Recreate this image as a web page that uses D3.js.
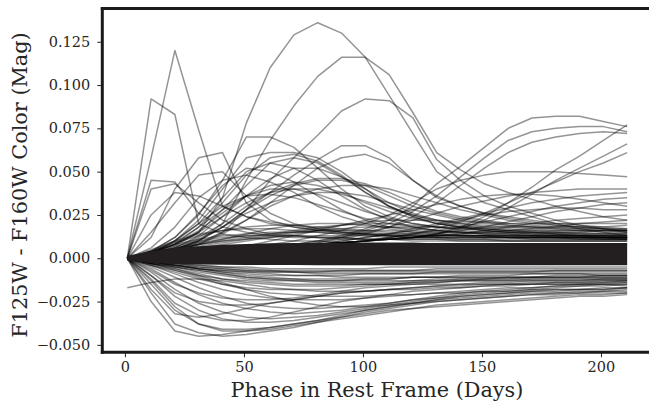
<!DOCTYPE html>
<html>
<head>
<meta charset="utf-8" />
<title>F125W - F160W color curves</title>
<style>
  body { margin: 0; background: #fff; }
  text { font-family: "DejaVu Serif", serif; fill: #262626; }
</style>
</head>
<body>
<script src="https://cdn.jsdelivr.net/npm/d3@7/dist/d3.min.js"></script>
<script>
// phases (days) at which every curve is sampled
var phases = [1,11,21,31,41,51,61,71,81,91,101,111,121,131,141,151,161,171,181,191,201,211];

var xTicks = [0, 50, 100, 150, 200];
var yTicks = [-0.050, -0.025, 0.000, 0.025, 0.050, 0.075, 0.100, 0.125];

// the three big late bumps
var bigBumps = [
  [0,.003,.008,.015,.035,.078,.110,.129,.136,.130,.116,.094,.072,.050,.040,.032,.028,.024,.020,.017,.015,.013],
  [0,.002,.005,.010,.020,.045,.068,.088,.105,.116,.116,.106,.084,.061,.051,.043,.038,.034,.030,.027,.024,.022],
  [0,.002,.004,.008,.015,.028,.045,.058,.071,.085,.092,.091,.081,.057,.045,.036,.030,.026,.022,.019,.017,.015]
];

// curves with an early spike
var earlySpikes = [
  [0,.058,.120,.074,.030,.024,.021,.019,.017,.015,.014,.013,.012,.012,.011,.011,.010,.010,.010,.010,.010,.010],
  [0,.092,.083,.020,.014,.012,.011,.010,.010,.009,.009,.009,.009,.008,.008,.008,.008,.008,.008,.008,.008,.008],
  [0,.045,.044,.026,.018,.015,.013,.012,.012,.011,.011,.011,.010,.010,.010,.010,.010,.010,.010,.010,.010,.010],
  [0,.040,.043,.032,.022,.017,.014,.013,.012,.012,.011,.011,.011,.011,.010,.010,.010,.010,.010,.010,.010,.010],
  [0,.012,.040,.058,.061,.032,.022,.018,.016,.015,.014,.013,.013,.012,.012,.012,.012,.011,.011,.011,.011,.011],
  [0,.015,.032,.048,.050,.036,.026,.020,.017,.016,.015,.014,.014,.013,.013,.013,.012,.012,.012,.012,.012,.012],
  [0,.025,.038,.036,.030,.024,.020,.018,.016,.015,.014,.014,.013,.013,.013,.012,.012,.012,.012,.012,.012,.012]
];

// curves peaking between 40 and 100 days
var midDomes = [
  [0,.004,.012,.025,.045,.070,.070,.064,.052,.040,.030,.024,.020,.018,.016,.015,.014,.013,.013,.012,.012,.012],
  [0,.003,.010,.022,.040,.058,.061,.061,.058,.050,.040,.030,.024,.020,.018,.016,.015,.014,.014,.013,.013,.013],
  [0,.003,.008,.018,.032,.048,.058,.060,.056,.048,.038,.030,.024,.020,.018,.016,.015,.014,.013,.013,.012,.012],
  [0,.002,.007,.015,.028,.042,.055,.058,.055,.047,.038,.030,.025,.021,.019,.017,.016,.015,.014,.013,.013,.012],
  [0,.002,.005,.010,.018,.028,.038,.048,.057,.065,.065,.058,.045,.035,.030,.026,.023,.021,.019,.018,.017,.016],
  [0,.002,.004,.008,.014,.022,.032,.042,.052,.058,.060,.055,.045,.036,.030,.026,.024,.022,.020,.019,.018,.017],
  [0,.003,.010,.020,.035,.050,.055,.052,.045,.036,.028,.022,.018,.016,.015,.014,.013,.013,.012,.012,.012,.011],
  [0,.002,.006,.013,.024,.036,.046,.052,.052,.047,.040,.032,.026,.022,.020,.018,.017,.016,.015,.015,.014,.014],
  [0,.004,.012,.026,.042,.052,.050,.044,.036,.028,.022,.018,.016,.015,.014,.013,.013,.012,.012,.012,.011,.011],
  [0,.006,.018,.035,.045,.048,.044,.038,.030,.024,.020,.017,.015,.014,.013,.013,.012,.012,.012,.011,.011,.011],
  [0,.002,.005,.010,.018,.028,.036,.042,.045,.045,.042,.036,.030,.026,.023,.021,.019,.018,.017,.016,.016,.015],
  [0,.003,.008,.016,.026,.036,.042,.044,.042,.038,.032,.027,.023,.020,.018,.017,.016,.015,.015,.014,.014,.014],
  [0,.002,.006,.012,.020,.030,.038,.043,.046,.046,.043,.038,.032,.027,.024,.022,.020,.019,.018,.017,.017,.016],
  [0,.003,.009,.018,.028,.036,.040,.040,.037,.032,.027,.023,.020,.018,.017,.016,.015,.015,.014,.014,.013,.013],
  [0,.002,.005,.011,.018,.026,.032,.036,.038,.038,.036,.032,.028,.025,.022,.020,.019,.018,.017,.017,.016,.016],
  [0,.004,.010,.020,.030,.036,.037,.035,.031,.027,.023,.020,.018,.016,.015,.014,.014,.013,.013,.013,.012,.012],
  [0,.002,.004,.009,.015,.022,.030,.036,.040,.042,.042,.040,.036,.032,.028,.025,.022,.020,.019,.018,.017,.017],
  [0,.003,.008,.015,.024,.032,.038,.040,.040,.037,.033,.029,.025,.022,.020,.019,.018,.017,.016,.016,.015,.015]
];

// curves that rise late
var lateRisers = [
  [0,.001,.002,.003,.004,.005,.006,.008,.010,.013,.017,.022,.030,.043,.053,.064,.075,.081,.082,.082,.079,.076],
  [0,.001,.002,.003,.004,.005,.006,.007,.009,.012,.016,.020,.027,.036,.047,.058,.068,.073,.075,.076,.076,.073],
  [0,.001,.002,.003,.004,.005,.006,.007,.009,.011,.014,.018,.024,.032,.042,.052,.061,.067,.070,.072,.073,.072],
  [0,.001,.002,.003,.004,.005,.006,.007,.008,.009,.010,.011,.012,.014,.018,.024,.032,.041,.051,.059,.068,.077],
  [0,.001,.002,.003,.004,.005,.006,.007,.008,.009,.010,.011,.012,.014,.017,.022,.029,.037,.045,.052,.059,.066],
  [0,.001,.002,.003,.004,.005,.006,.007,.008,.009,.010,.012,.014,.017,.021,.026,.032,.038,.044,.050,.055,.061],
  [0,.001,.002,.003,.004,.006,.008,.010,.013,.016,.020,.025,.032,.040,.045,.048,.050,.050,.050,.049,.048,.047],
  [0,.001,.002,.003,.004,.005,.006,.007,.008,.010,.012,.014,.017,.020,.023,.026,.029,.032,.034,.036,.037,.038],
  [0,.001,.002,.003,.004,.005,.006,.008,.010,.012,.015,.018,.022,.026,.030,.033,.036,.038,.039,.040,.040,.040],
  [0,.001,.002,.003,.004,.005,.006,.007,.008,.009,.010,.012,.014,.016,.018,.021,.024,.027,.030,.032,.034,.035],
  [0,.001,.002,.003,.004,.005,.006,.007,.008,.009,.010,.011,.012,.014,.016,.018,.021,.024,.027,.029,.031,.032],
  [0,.001,.002,.003,.004,.005,.006,.007,.008,.010,.012,.014,.016,.019,.022,.025,.027,.028,.029,.029,.028,.028],
  [0,.001,.002,.003,.004,.005,.006,.007,.008,.009,.010,.011,.012,.013,.014,.016,.018,.020,.022,.023,.024,.025],
  [0,.001,.002,.003,.004,.005,.006,.007,.008,.009,.010,.011,.012,.013,.014,.015,.016,.017,.018,.020,.021,.022],
  [0,.001,.002,.003,.005,.007,.010,.013,.016,.019,.022,.025,.028,.031,.034,.036,.037,.037,.036,.034,.032,.030]
];

// low positive curves just above the dense band
var lowPositive = [
  [0,.003,.006,.009,.011,.013,.014,.015,.016,.016,.016,.016,.015,.015,.015,.014,.014,.014,.014,.014,.014,.014],
  [0,.004,.008,.011,.013,.014,.015,.015,.015,.014,.014,.013,.013,.013,.013,.013,.013,.013,.013,.013,.013,.013],
  [0,.002,.005,.008,.010,.012,.014,.016,.018,.019,.020,.020,.019,.018,.017,.017,.016,.016,.016,.016,.016,.016],
  [0,.003,.006,.008,.010,.011,.012,.013,.013,.013,.013,.012,.012,.012,.012,.012,.012,.012,.012,.012,.012,.012],
  [0,.005,.010,.014,.016,.017,.017,.016,.015,.014,.013,.013,.012,.012,.012,.012,.012,.012,.012,.012,.012,.012],
  [0,.002,.004,.006,.008,.010,.012,.014,.016,.017,.018,.018,.018,.018,.018,.018,.018,.018,.018,.018,.018,.019],
  [0,.003,.007,.010,.012,.013,.013,.013,.012,.012,.011,.011,.011,.011,.011,.011,.011,.011,.011,.011,.011,.011],
  [0,.002,.005,.008,.011,.014,.017,.019,.020,.020,.019,.018,.017,.016,.015,.015,.015,.015,.015,.015,.016,.016],
  [0,.004,.009,.013,.016,.018,.019,.019,.018,.017,.016,.015,.014,.014,.013,.013,.013,.013,.013,.013,.013,.013],
  [0,.002,.004,.007,.009,.011,.013,.015,.017,.019,.021,.022,.022,.022,.021,.021,.020,.020,.020,.020,.020,.020]
];

// curves that go negative
var negatives = [
  [0,-.025,-.042,-.045,-.044,-.042,-.040,-.038,-.036,-.034,-.032,-.030,-.029,-.028,-.027,-.026,-.025,-.024,-.023,-.022,-.022,-.021],
  [0,-.020,-.038,-.043,-.045,-.044,-.042,-.040,-.037,-.034,-.031,-.029,-.027,-.025,-.024,-.023,-.022,-.021,-.020,-.020,-.019,-.019],
  [0,-.015,-.030,-.038,-.041,-.041,-.040,-.038,-.036,-.033,-.030,-.028,-.026,-.024,-.023,-.022,-.021,-.020,-.020,-.019,-.019,-.018],
  [-.017,-.014,-.012,-.012,-.013,-.015,-.017,-.018,-.019,-.019,-.019,-.018,-.018,-.017,-.017,-.016,-.016,-.015,-.015,-.015,-.014,-.014],
  [0,-.010,-.022,-.030,-.035,-.037,-.037,-.036,-.034,-.032,-.030,-.028,-.026,-.024,-.022,-.021,-.020,-.019,-.018,-.018,-.017,-.017],
  [0,-.008,-.018,-.026,-.031,-.034,-.035,-.034,-.033,-.031,-.029,-.027,-.025,-.023,-.021,-.020,-.019,-.018,-.017,-.016,-.016,-.015],
  [0,-.006,-.014,-.021,-.026,-.029,-.031,-.032,-.031,-.030,-.028,-.026,-.024,-.022,-.020,-.019,-.018,-.017,-.016,-.015,-.015,-.014],
  [0,-.018,-.032,-.034,-.032,-.029,-.026,-.024,-.022,-.020,-.019,-.018,-.017,-.016,-.015,-.014,-.014,-.013,-.013,-.013,-.012,-.012],
  [0,-.012,-.026,-.033,-.036,-.036,-.034,-.031,-.028,-.025,-.023,-.021,-.019,-.018,-.017,-.016,-.015,-.015,-.014,-.014,-.013,-.013],
  [0,-.005,-.011,-.017,-.022,-.026,-.028,-.029,-.029,-.028,-.027,-.026,-.024,-.023,-.022,-.021,-.020,-.019,-.019,-.018,-.018,-.017],
  [0,-.004,-.009,-.014,-.018,-.021,-.023,-.024,-.024,-.024,-.023,-.022,-.021,-.020,-.019,-.018,-.017,-.017,-.016,-.016,-.015,-.015],
  [0,-.007,-.015,-.020,-.023,-.024,-.024,-.023,-.021,-.019,-.017,-.016,-.015,-.014,-.013,-.012,-.012,-.011,-.011,-.011,-.010,-.010],
  [0,-.003,-.007,-.011,-.015,-.018,-.020,-.021,-.022,-.022,-.022,-.021,-.021,-.020,-.020,-.019,-.019,-.018,-.018,-.018,-.018,-.017],
  [0,-.004,-.008,-.012,-.015,-.017,-.018,-.018,-.018,-.017,-.016,-.015,-.014,-.013,-.012,-.012,-.011,-.011,-.010,-.010,-.010,-.010],
  [0,-.003,-.006,-.009,-.012,-.014,-.015,-.016,-.016,-.016,-.015,-.015,-.014,-.014,-.013,-.013,-.013,-.012,-.012,-.012,-.012,-.012],
  [0,-.002,-.005,-.008,-.010,-.012,-.013,-.013,-.013,-.013,-.012,-.012,-.011,-.011,-.010,-.010,-.010,-.009,-.009,-.009,-.009,-.009],
  [0,-.002,-.004,-.006,-.008,-.009,-.010,-.010,-.010,-.010,-.009,-.009,-.009,-.008,-.008,-.008,-.008,-.008,-.008,-.008,-.008,-.008],
  [0,-.010,-.020,-.025,-.027,-.027,-.026,-.024,-.022,-.020,-.019,-.018,-.017,-.016,-.016,-.015,-.015,-.014,-.014,-.014,-.014,-.013],
  [0,-.003,-.006,-.010,-.014,-.018,-.022,-.025,-.027,-.028,-.028,-.027,-.026,-.025,-.024,-.023,-.022,-.021,-.021,-.020,-.020,-.020],
  [0,-.002,-.004,-.006,-.007,-.008,-.008,-.008,-.008,-.007,-.007,-.007,-.007,-.006,-.006,-.006,-.006,-.006,-.006,-.006,-.006,-.006],
  [0,-.013,-.028,-.038,-.042,-.042,-.041,-.039,-.037,-.035,-.033,-.031,-.029,-.027,-.026,-.025,-.024,-.023,-.022,-.021,-.021,-.020],
  [0,-.003,-.005,-.007,-.009,-.011,-.012,-.013,-.014,-.014,-.014,-.014,-.013,-.013,-.013,-.013,-.013,-.013,-.013,-.013,-.013,-.013]
];

// shallow negative curves hugging the underside of the band
var lowNegative = [
  [0,-.002,-.003,-.004,-.005,-.005,-.006,-.006,-.006,-.006,-.006,-.005,-.005,-.005,-.005,-.005,-.005,-.005,-.005,-.005,-.005,-.005],
  [0,-.002,-.003,-.005,-.006,-.007,-.007,-.007,-.007,-.007,-.007,-.007,-.007,-.007,-.007,-.007,-.007,-.007,-.007,-.007,-.007,-.007],
  [0,-.002,-.004,-.005,-.006,-.007,-.008,-.008,-.009,-.009,-.009,-.009,-.009,-.009,-.009,-.009,-.009,-.009,-.009,-.009,-.010,-.010],
  [0,-.003,-.004,-.006,-.007,-.008,-.009,-.010,-.010,-.011,-.011,-.011,-.011,-.011,-.011,-.011,-.011,-.011,-.011,-.011,-.011,-.011],
  [0,-.002,-.003,-.004,-.005,-.006,-.007,-.008,-.008,-.008,-.008,-.008,-.008,-.008,-.008,-.008,-.008,-.008,-.007,-.007,-.007,-.007],
  [0,-.003,-.005,-.007,-.009,-.011,-.012,-.012,-.012,-.012,-.012,-.012,-.011,-.011,-.011,-.011,-.011,-.011,-.011,-.011,-.011,-.011],
  [0,-.004,-.007,-.010,-.012,-.013,-.014,-.015,-.015,-.015,-.015,-.015,-.015,-.015,-.015,-.015,-.015,-.015,-.015,-.015,-.015,-.016],
  [0,-.002,-.004,-.006,-.008,-.010,-.011,-.012,-.013,-.013,-.013,-.013,-.013,-.012,-.012,-.012,-.012,-.012,-.012,-.012,-.012,-.012]
];

// edges of the solid band where hundreds of curves pile up near zero
var bandUpper = [.0015,.004,.006,.007,.0078,.0083,.0086,.0088,.0088,.0088,.0088,.0088,.0088,.0088,.0088,.0088,.0088,.0088,.0088,.0088,.0088,.0088];
var bandLower = [-.0015,-.0028,-.0033,-.0036,-.0038,-.0039,-.0039,-.0039,-.004,-.004,-.004,-.004,-.004,-.004,-.004,-.004,-.004,-.004,-.004,-.004,-.004,-.004];

var width = 649,
    height = 404;

var svg = d3.select('body').append('svg')
    .attr('width', width)
    .attr('height', height);

var x = d3.scaleLinear()
    .domain([-9.5, 220.6])
    .range([102.3, 650]);

var y = d3.scaleLinear()
    .domain([-0.0543, 0.1442])
    .range([352.3, 8.5]);

var line = d3.line()
    .x(function(d, i) { return x(phases[i]); })
    .y(function(d) { return y(d); });

var band = d3.area()
    .x(function(d, i) { return x(phases[i]); })
    .y0(function(d, i) { return y(bandLower[i]); })
    .y1(function(d) { return y(d); });

var curves = [].concat(lowNegative, negatives, lowPositive, lateRisers, midDomes, earlySpikes, bigBumps);

svg.append('g').selectAll('path')
    .data(curves)
  .enter().append('path')
    .attr('d', line)
    .attr('fill', 'none')
    .attr('stroke', '#000')
    .attr('stroke-opacity', 0.42)
    .attr('stroke-width', 1.5)
    .attr('stroke-linejoin', 'round');

svg.append('path')
    .datum(bandUpper)
    .attr('d', band)
    .attr('fill', '#231f20');

// axes
var xAxis = svg.append('g')
    .attr('transform', 'translate(0,352.3)')
    .call(d3.axisBottom(x).tickValues(xTicks).tickSize(5).tickPadding(4).tickFormat(d3.format('d')));

var yAxis = svg.append('g')
    .attr('transform', 'translate(102.3,0)')
    .call(d3.axisLeft(y).tickValues(yTicks).tickSize(5).tickPadding(7)
        .tickFormat(function(d) { return d3.format('.3f')(d).replace('-', '\u2212'); }));

[xAxis, yAxis].forEach(function(g) {
    g.select('.domain').remove();
    g.selectAll('.tick line').attr('stroke', '#262626').attr('stroke-width', 1);
    g.selectAll('.tick text').attr('font-size', 14.5).attr('font-family', '"DejaVu Serif", serif').attr('fill', '#262626');
});

// frame
var frame = svg.append('g')
    .attr('stroke', '#1a1a1a')
    .attr('stroke-width', 3)
    .attr('fill', 'none');
frame.append('line').attr('x1', 102.3).attr('x2', 102.3).attr('y1', 7).attr('y2', 353.8);
frame.append('line').attr('x1', 100.8).attr('x2', 652).attr('y1', 352.3).attr('y2', 352.3);
frame.append('line').attr('x1', 100.8).attr('x2', 652).attr('y1', 8.5).attr('y2', 8.5);

svg.append('text')
    .attr('x', 377)
    .attr('y', 397)
    .attr('text-anchor', 'middle')
    .attr('font-size', 20.8)
    .text('Phase in Rest Frame (Days)');

svg.append('text')
    .attr('transform', 'translate(27,185) rotate(-90)')
    .attr('text-anchor', 'middle')
    .attr('font-size', 20.8)
    .text('F125W - F160W Color (Mag)');
</script>
</body>
</html>
